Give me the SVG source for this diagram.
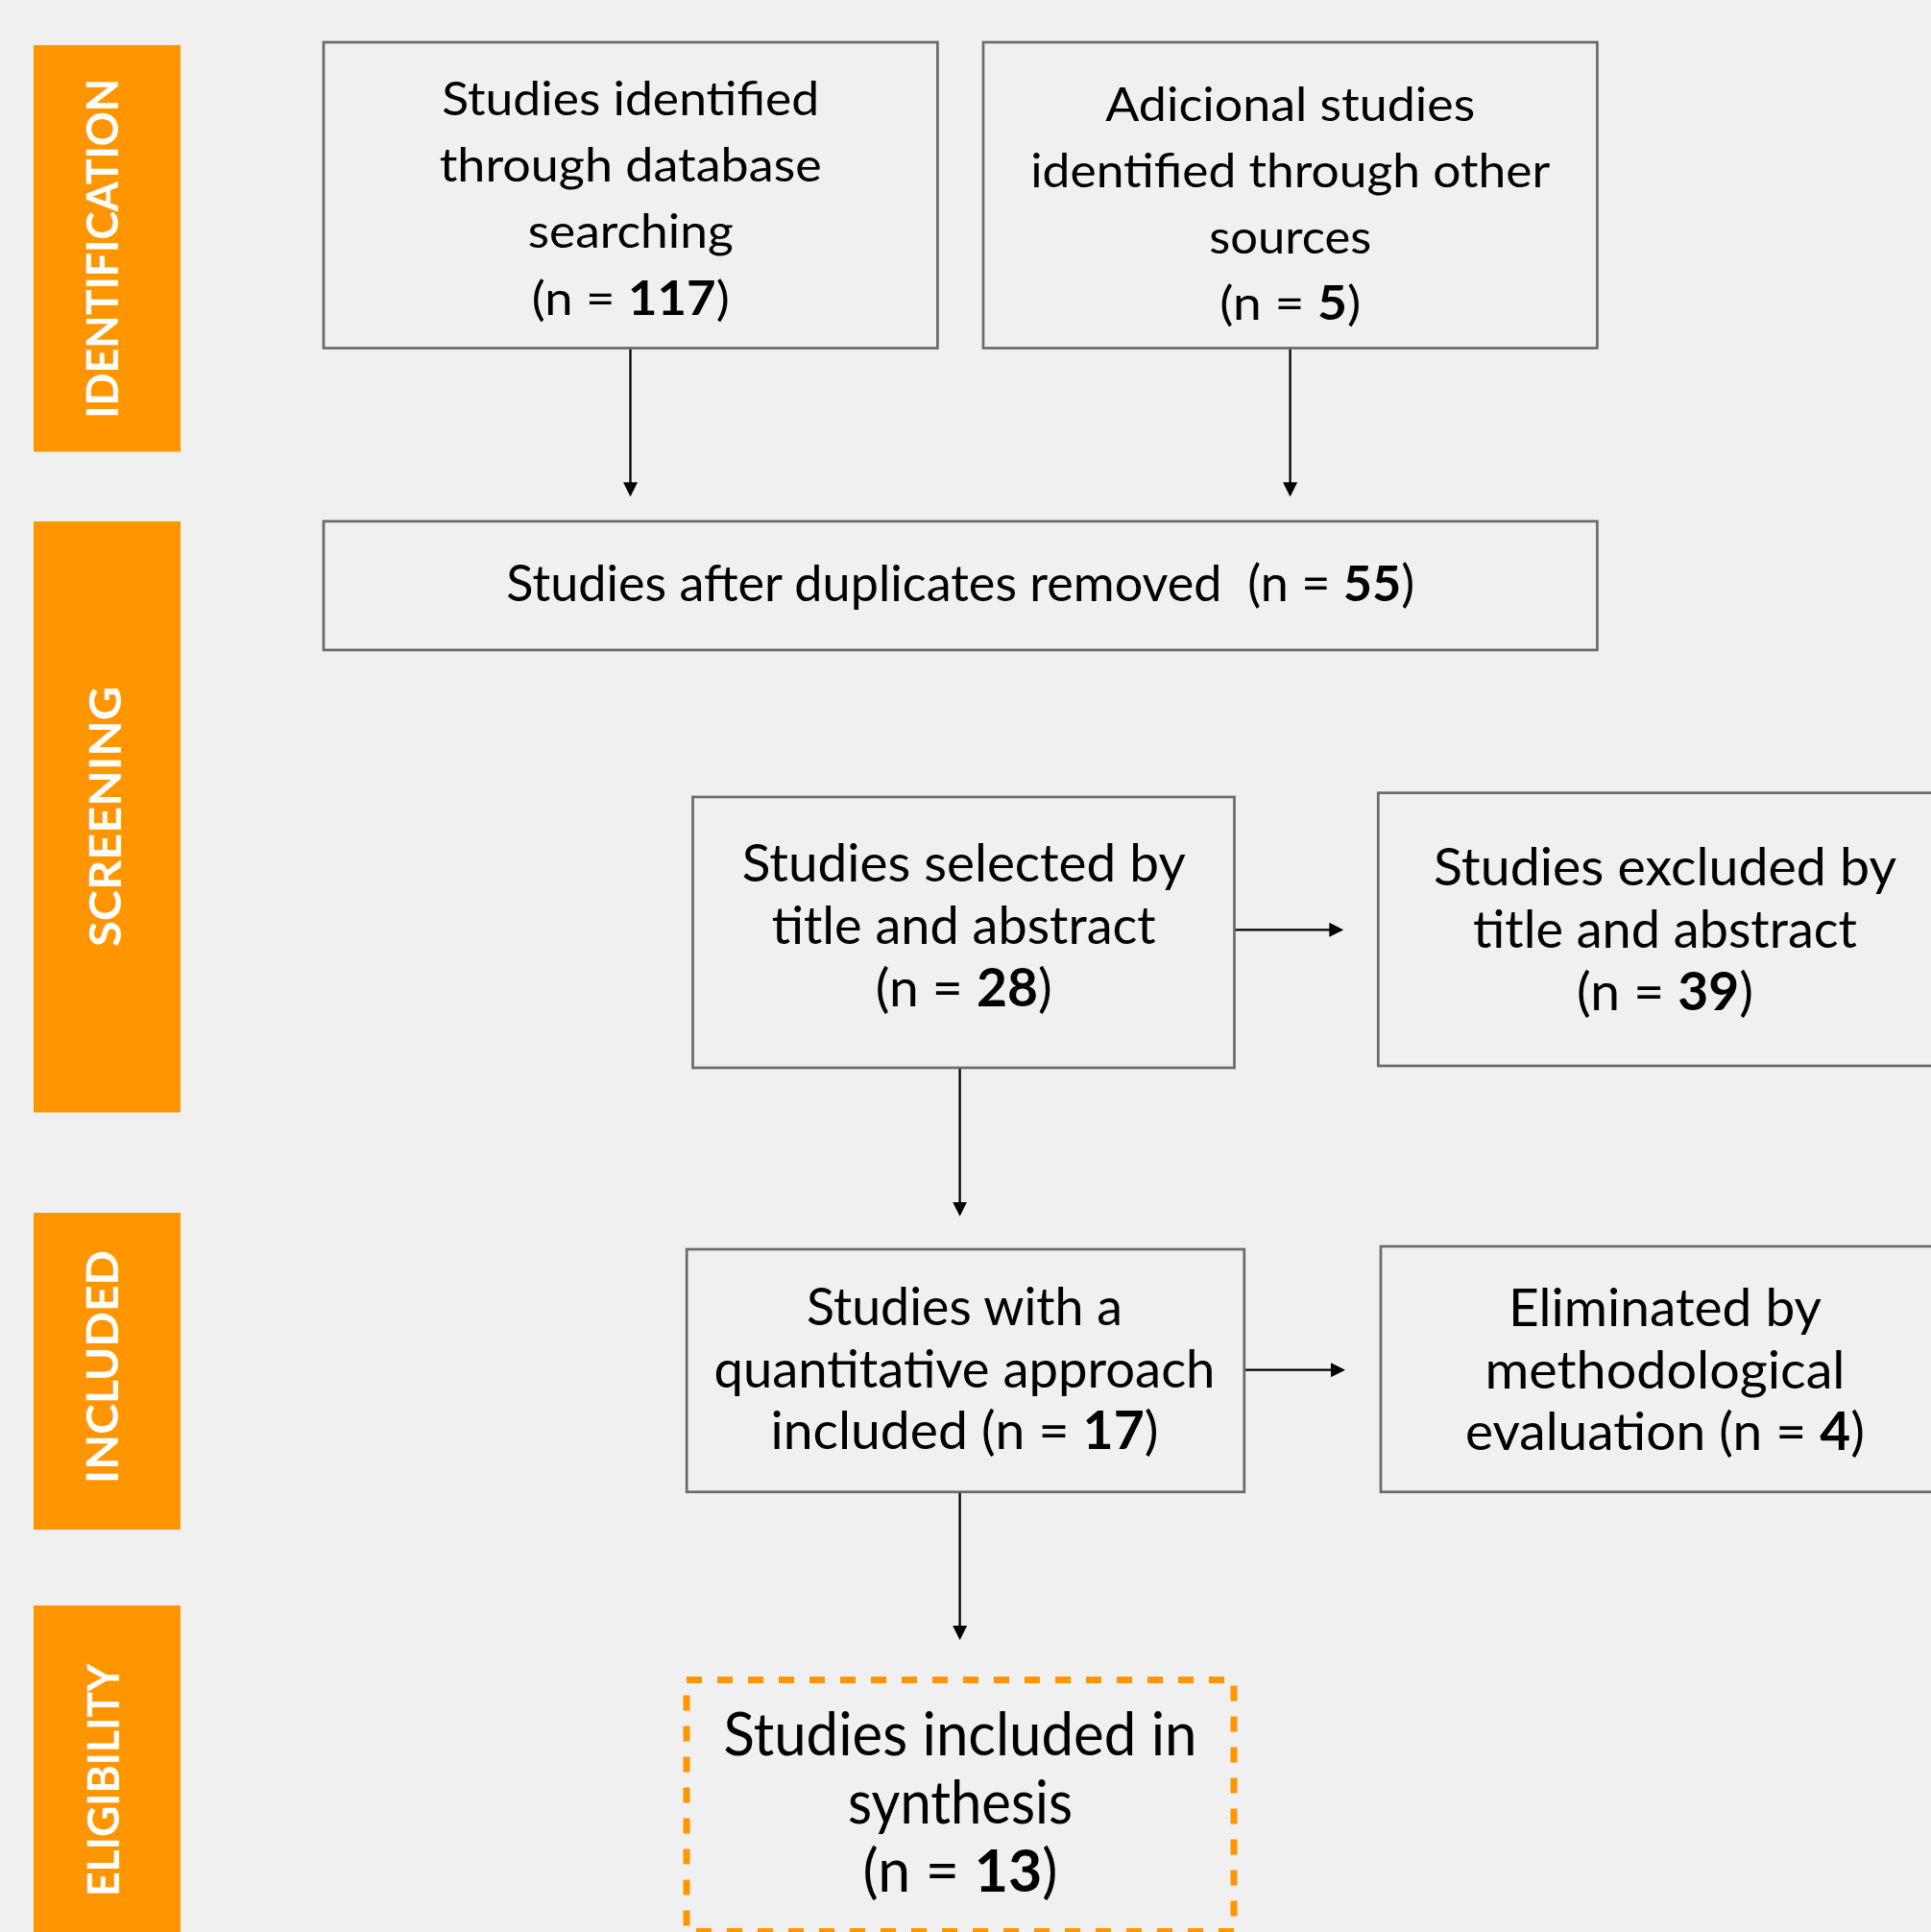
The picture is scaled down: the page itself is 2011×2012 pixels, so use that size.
<svg xmlns="http://www.w3.org/2000/svg" width="2011" height="2012" viewBox="0 0 2011 2012">
<style>
.bg{fill:#f0f0f0}
.band{fill:#ff9500}
.lbl{font-family:Lato,"Liberation Sans",sans-serif;font-weight:bold;fill:#ffffff;font-size:45px;text-anchor:middle}
.box{fill:#f0f0f0;stroke:#6a6a6a;stroke-width:2.7}
.dash{fill:none;stroke:#ff9500;stroke-width:7;stroke-dasharray:16 16}
.t{font-family:Lato,"Liberation Sans",sans-serif;fill:#000000;text-anchor:middle}
.s49{font-size:49px}
.s52{font-size:52px}
.s55{font-size:55px}
.s61{font-size:61px}
b,.b{font-weight:bold}
.con{stroke:#000000;stroke-width:2.3;fill:none;marker-end:url(#ah)}
</style>
<defs>
<marker id="ah" markerUnits="userSpaceOnUse" markerWidth="15" markerHeight="15" refX="3" refY="7.5" orient="auto">
<path d="M0,0 L15,7.5 L0,15 Z" fill="#000000"/>
</marker>
</defs>
<rect class="bg" x="0" y="0" width="2011" height="2012"/>

<g id="band-identification">
<rect class="band" x="35" y="47" width="153" height="423.5"/>
<text class="lbl" x="123.3" y="258.7" transform="rotate(-90 123.3 258.7)" textLength="354" lengthAdjust="spacingAndGlyphs">IDENTIFICATION</text>
</g>
<g id="band-screening">
<rect class="band" x="35" y="543" width="153" height="615.5"/>
<text class="lbl" x="126" y="850.5" transform="rotate(-90 126 850.5)" textLength="271" lengthAdjust="spacingAndGlyphs">SCREENING</text>
</g>
<g id="band-included">
<rect class="band" x="35" y="1263" width="153" height="330"/>
<text class="lbl" x="123.3" y="1423.5" transform="rotate(-90 123.3 1423.5)" textLength="243" lengthAdjust="spacingAndGlyphs">INCLUDED</text>
</g>
<g id="band-eligibility">
<rect class="band" x="35" y="1672" width="153" height="360"/>
<text class="lbl" x="124" y="1854" transform="rotate(-90 124 1854)" textLength="242" lengthAdjust="spacingAndGlyphs">ELIGIBILITY</text>
</g>

<g id="connectors">
<line class="con" x1="656.5" y1="362.5" x2="656.5" y2="505.3"/>
<line class="con" x1="1343.6" y1="362.5" x2="1343.6" y2="505.3"/>
<line class="con" x1="1285.5" y1="968.3" x2="1387.3" y2="968.3"/>
<line class="con" x1="999.6" y1="1112" x2="999.6" y2="1254.7"/>
<line class="con" x1="1296" y1="1426.7" x2="1389" y2="1426.7"/>
<line class="con" x1="999.6" y1="1554" x2="999.6" y2="1696"/>
</g>

<g id="node-database">
<rect class="box" x="337" y="44" width="639.4" height="318.5"/>
<text class="t s49" x="656.7" y="119.6" textLength="393" lengthAdjust="spacingAndGlyphs">Studies identified</text>
<text class="t s49" x="656.7" y="188.8" textLength="398" lengthAdjust="spacingAndGlyphs">through database</text>
<text class="t s49" x="656.7" y="258" textLength="214" lengthAdjust="spacingAndGlyphs">searching</text>
<text class="t s49" x="656.7" y="328" textLength="206" lengthAdjust="spacingAndGlyphs">(n = <tspan class="b">117</tspan>)</text>
</g>

<g id="node-other">
<rect class="box" x="1024" y="44" width="639.4" height="318.5"/>
<text class="t s49" x="1343.7" y="125.9" textLength="385" lengthAdjust="spacingAndGlyphs">Adicional studies</text>
<text class="t s49" x="1343.7" y="195" textLength="541" lengthAdjust="spacingAndGlyphs">identified through other</text>
<text class="t s49" x="1343.7" y="264" textLength="169" lengthAdjust="spacingAndGlyphs">sources</text>
<text class="t s49" x="1343.7" y="332.6" textLength="147" lengthAdjust="spacingAndGlyphs">(n = <tspan class="b">5</tspan>)</text>
</g>

<g id="node-duplicates">
<rect class="box" x="337" y="542.9" width="1326.4" height="134"/>
<text class="t s52" x="1000.3" y="626" xml:space="preserve" textLength="946" lengthAdjust="spacingAndGlyphs">Studies after duplicates removed  (n = <tspan class="b">55</tspan>)</text>
</g>

<g id="node-selected">
<rect class="box" x="721.5" y="830" width="564" height="282"/>
<text class="t s55" x="1003.7" y="918" textLength="462" lengthAdjust="spacingAndGlyphs">Studies selected by</text>
<text class="t s55" x="1003.7" y="983" textLength="400" lengthAdjust="spacingAndGlyphs">title and abstract</text>
<text class="t s55" x="1003.7" y="1048" textLength="184" lengthAdjust="spacingAndGlyphs">(n = <tspan class="b">28</tspan>)</text>
</g>

<g id="node-excluded">
<rect class="box" x="1435.3" y="825.7" width="620" height="284.3"/>
<text class="t s55" x="1734" y="921.7" textLength="482" lengthAdjust="spacingAndGlyphs">Studies excluded by</text>
<text class="t s55" x="1734" y="986.7" textLength="400" lengthAdjust="spacingAndGlyphs">title and abstract</text>
<text class="t s55" x="1734" y="1051.7" textLength="184" lengthAdjust="spacingAndGlyphs">(n = <tspan class="b">39</tspan>)</text>
</g>

<g id="node-quantitative">
<rect class="box" x="715.2" y="1301" width="580.6" height="252.7"/>
<text class="t s55" x="1004.5" y="1380" textLength="329" lengthAdjust="spacingAndGlyphs">Studies with a</text>
<text class="t s55" x="1004.5" y="1445" textLength="522" lengthAdjust="spacingAndGlyphs">quantitative approach</text>
<text class="t s55" x="1004.5" y="1509.3" textLength="404" lengthAdjust="spacingAndGlyphs">included (n = <tspan class="b">17</tspan>)</text>
</g>

<g id="node-eliminated">
<rect class="box" x="1438" y="1298" width="620" height="255.7"/>
<text class="t s55" x="1734" y="1381" textLength="326" lengthAdjust="spacingAndGlyphs">Eliminated by</text>
<text class="t s55" x="1734" y="1446" textLength="375" lengthAdjust="spacingAndGlyphs">methodological</text>
<text class="t s55" x="1734" y="1510" textLength="416" lengthAdjust="spacingAndGlyphs">evaluation (n = <tspan class="b">4</tspan>)</text>
</g>

<g id="node-synthesis">
<rect class="dash" x="715" y="1749.5" width="570" height="262"/>
<text class="t s61" x="1000" y="1827.7" textLength="493" lengthAdjust="spacingAndGlyphs">Studies included in</text>
<text class="t s61" x="1000" y="1899" textLength="234" lengthAdjust="spacingAndGlyphs">synthesis</text>
<text class="t s61" x="1000" y="1970" textLength="203" lengthAdjust="spacingAndGlyphs">(n = <tspan class="b">13</tspan>)</text>
</g>
</svg>
